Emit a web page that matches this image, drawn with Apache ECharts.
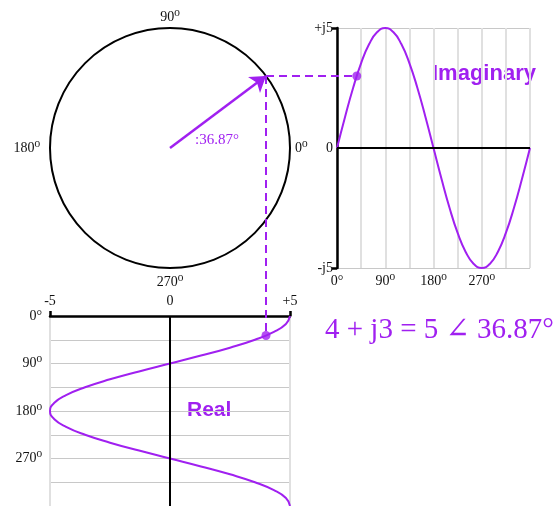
<!DOCTYPE html>
<html>
<head>
<meta charset="utf-8">
<script src="https://cdn.jsdelivr.net/npm/echarts@6/dist/echarts.min.js"></script>
<style>
  html, body { margin: 0; padding: 0; background: #fff; }
  #chart { width: 559px; height: 506px; }
</style>
</head>
<body>
<div id="chart"></div>
<script>
const purple = '#a020f0'
const serif = "'Liberation Serif', 'DejaVu Serif', serif"
const sans = "'Liberation Sans', Arial, sans-serif"

const angles = [0, 15, 30, 45, 60, 75, 90, 105, 120, 135, 150, 165, 180, 195, 210, 225, 240, 255, 270, 285, 300, 315, 330, 345, 360]
const imagValues = [0, 1.29, 2.5, 3.54, 4.33, 4.83, 5, 4.83, 4.33, 3.54, 2.5, 1.29, 0, -1.29, -2.5, -3.54, -4.33, -4.83, -5, -4.83, -4.33, -3.54, -2.5, -1.29, 0]
const realValues = [5, 4.83, 4.33, 3.54, 2.5, 1.29, 0, -1.29, -2.5, -3.54, -4.33, -4.83, -5, -4.83, -4.33, -3.54, -2.5, -1.29, 0, 1.29, 2.5, 3.54, 4.33, 4.83, 5]

// the phasor
const phasorReal = 4
const phasorImag = 3
const phasorAngle = 36.87

// tick labels
const degreeTicks = [0, 90, 180, 270]
const imagTicks = [-5, 0, 5]
const imagTickLabels = ['-j5', '0', '+j5']
const realTicks = [-5, 0, 5]
const realTickLabels = ['-5', '0', '+5']

const degLabel = v => (v === 0 ? '0°' : v + '⁰')
const labelStyle = { fontFamily: serif, fontSize: 14, color: '#111' }

const chart = echarts.init(document.getElementById('chart'))

const baseSeries = [
  {
    id: 'imagWave', type: 'line', xAxisIndex: 0, yAxisIndex: 0,
    data: angles.map((a, i) => [a, imagValues[i]]),
    smooth: true, showSymbol: false,
    lineStyle: { color: purple, width: 2 },
    markLine: {
      silent: true, symbol: 'none', label: { show: false },
      lineStyle: { color: '#000', width: 2, type: 'solid' },
      data: [{ yAxis: 0 }],
    },
    z: 3,
  },
  {
    id: 'realWave', type: 'line', xAxisIndex: 1, yAxisIndex: 1,
    data: angles.map((a, i) => [realValues[i], a]),
    smooth: true, showSymbol: false,
    lineStyle: { color: purple, width: 2 },
    markLine: {
      silent: true, symbol: 'none', label: { show: false },
      lineStyle: { color: '#000', width: 2, type: 'solid' },
      data: [{ xAxis: 0 }],
    },
    z: 3,
  },
  {
    id: 'imagDot', type: 'scatter', xAxisIndex: 0, yAxisIndex: 0,
    data: [[phasorAngle, phasorImag]], symbolSize: 9,
    itemStyle: { color: purple }, z: 5,
  },
  {
    id: 'realDot', type: 'scatter', xAxisIndex: 1, yAxisIndex: 1,
    data: [[phasorReal, phasorAngle]], symbolSize: 9,
    itemStyle: { color: purple }, z: 5,
  },
  {
    id: 'vector', type: 'lines', coordinateSystem: 'cartesian2d', xAxisIndex: 2, yAxisIndex: 2,
    data: [{ coords: [[0, 0], [phasorReal, phasorImag]] }],
    symbol: ['none', 'arrow'], symbolSize: [8, 15],
    lineStyle: { color: purple, width: 2.5, opacity: 1 }, z: 6,
  },
]

const option = {
  animation: false,
  grid: [
    { left: 337, top: 28, width: 193, height: 240 },
    { left: 50, top: 316, width: 240, height: 192 },
    { left: 50, top: 28, width: 240, height: 240 },
  ],
  polar: { center: [170, 148], radius: 120 },
  angleAxis: {
    type: 'value', min: 0, max: 360, interval: 90, startAngle: 0, clockwise: false,
    axisLine: { lineStyle: { color: '#000', width: 2 } },
    axisTick: { show: false }, splitLine: { show: false },
    axisLabel: {
      ...labelStyle, margin: 4,
      formatter: v => (v === 360 ? '' : `{a${v}|${v}⁰}`),
      rich: {
        a0: { padding: [0, 0, 0, 1] },
        a90: {},
        a180: { padding: [0, 6, 0, 0] },
        a270: { padding: [3, 0, 0, 0] },
      },
    },
  },
  radiusAxis: { min: 0, max: 5, show: false },
  xAxis: [
    {
      gridIndex: 0, type: 'value', min: 0, max: 360, interval: 45,
      axisLine: { show: false, onZero: false }, axisTick: { show: false },
      splitLine: { lineStyle: { color: '#e0e0e0', width: 2 } },
      axisLabel: { ...labelStyle, margin: 6, customValues: degreeTicks, formatter: degLabel },
    },
    {
      gridIndex: 1, type: 'value', position: 'top', min: -5, max: 5, interval: 0.5,
      axisLine: { onZero: false, lineStyle: { color: '#000', width: 2.5 } },
      axisTick: { customValues: [-5, 5], length: 5, lineStyle: { color: '#000', width: 2.5 } },
      splitLine: { lineStyle: { color: '#e0e0e0', width: 2 } },
      axisLabel: {
        ...labelStyle, margin: 8, customValues: realTicks,
        formatter: v => realTickLabels[realTicks.indexOf(v)],
      },
    },
    { gridIndex: 2, type: 'value', min: -5, max: 5, show: false },
  ],
  yAxis: [
    {
      gridIndex: 0, type: 'value', min: -5, max: 5, interval: 1,
      axisLine: { onZero: false, lineStyle: { color: '#000', width: 2.5 } },
      axisTick: { customValues: [-5, 5], length: 5, lineStyle: { color: '#000', width: 2.5 } },
      splitLine: { lineStyle: { color: '#c8c8c8', width: 1 } },
      axisLabel: {
        ...labelStyle, margin: 4, customValues: imagTicks,
        formatter: v => imagTickLabels[imagTicks.indexOf(v)],
      },
    },
    {
      gridIndex: 1, type: 'value', min: 0, max: 360, interval: 45, inverse: true,
      axisLine: { show: false, onZero: false }, axisTick: { show: false },
      splitLine: { lineStyle: { color: '#c8c8c8', width: 1 } },
      axisLabel: { ...labelStyle, margin: 8, customValues: degreeTicks, formatter: degLabel },
    },
    { gridIndex: 2, type: 'value', min: -5, max: 5, show: false },
  ],
  graphic: [
    {
      type: 'text', left: 432, top: 63,
      style: { text: 'Imaginary', fill: purple, font: `bold 22px ${sans}` },
    },
    {
      type: 'text', left: 187, top: 400,
      style: { text: 'Real', fill: purple, font: `bold 21px ${sans}` },
    },
    {
      type: 'text', left: 195, top: 133,
      style: { text: ':36.87°', fill: purple, font: `15px ${serif}` },
    },
    {
      type: 'text', left: 325, top: 316,
      style: { text: '4 + j3 = 5 ∠ 36.87°', fill: purple, font: `29px ${serif}` },
    },
  ],
  series: baseSeries,
}

chart.setOption(option)

// dashed projection lines: from the vector tip over to the two dots,
// expressed in the circle's own coordinates
const imagDotPx = chart.convertToPixel({ gridIndex: 0 }, [phasorAngle, phasorImag])
const realDotPx = chart.convertToPixel({ gridIndex: 1 }, [phasorReal, phasorAngle])
const imagDotC = chart.convertFromPixel({ gridIndex: 2 }, imagDotPx)
const realDotC = chart.convertFromPixel({ gridIndex: 2 }, realDotPx)

chart.setOption({
  series: baseSeries.concat([
    {
      id: 'dashes', type: 'lines', coordinateSystem: 'cartesian2d', xAxisIndex: 2, yAxisIndex: 2,
      clip: false,
      data: [
        { coords: [[phasorReal, phasorImag], [imagDotC[0], phasorImag]] },
        { coords: [[phasorReal, phasorImag], [phasorReal, realDotC[1]]] },
      ],
      lineStyle: { color: purple, width: 2, type: [8, 5], opacity: 1 }, z: 4,
    },
  ]),
})

window.addEventListener('resize', () => chart.resize())
</script>
</body>
</html>
